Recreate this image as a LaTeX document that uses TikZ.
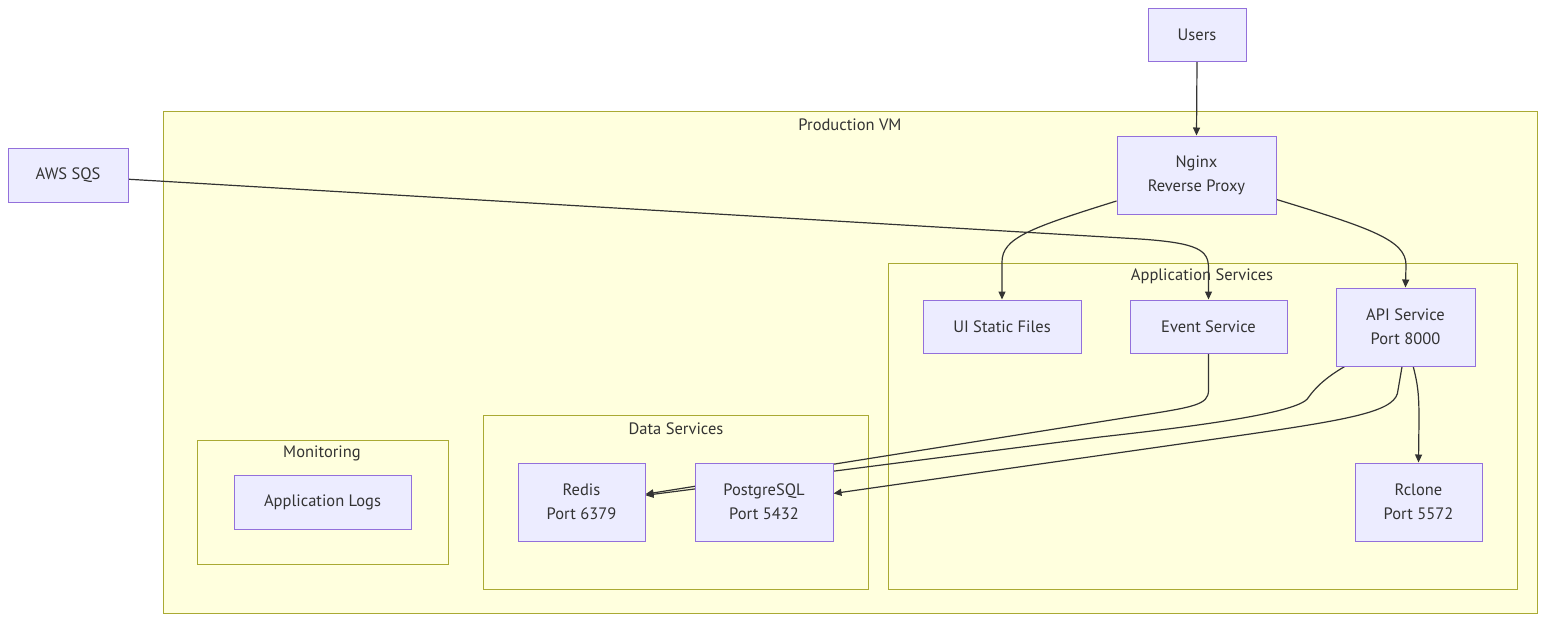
\documentclass[tikz,border=0pt]{standalone}
\usepackage{fontspec}
\setmainfont{PT Sans}
\usetikzlibrary{arrows.meta}
\definecolor{nodefill}{HTML}{ECECFF}
\definecolor{nodeline}{HTML}{9370DB}
\definecolor{clusterfill}{HTML}{FFFFDE}
\definecolor{clusterline}{HTML}{AAAA33}
\definecolor{inkgrey}{HTML}{333333}
\pgfdeclarelayer{bg}
\pgfdeclarelayer{edges}
\pgfsetlayers{bg,edges,main}
\begin{document}
\begin{tikzpicture}[x=1pt,y=-1pt,
  box/.style={draw=nodeline,fill=nodefill,line width=1pt,text=inkgrey,align=center,font=\fontsize{16.5}{24}\selectfont,inner sep=0pt},
  cluster/.style={draw=clusterline,fill=clusterfill,line width=1pt},
  clabel/.style={text=inkgrey,font=\fontsize{16.5}{24}\selectfont,inner sep=0pt},
  edge/.style={draw=inkgrey,line width=1.2pt,-{Triangle[length=8pt,width=7pt]}}]

\useasboundingbox (0,0) rectangle (1553,625) ;

\node[box,minimum width=98pt,minimum height=53pt] (users) at (1197,34.5) {Users} ;
\node[box,minimum width=120pt,minimum height=54pt] (sqs) at (68,175) {AWS SQS} ;
\node[box,minimum width=159pt,minimum height=78pt] (nginx) at (1196.5,175) {Nginx\\Reverse Proxy} ;
\node[box,minimum width=158pt,minimum height=53pt] (ui) at (1002,326.5) {UI Static Files} ;
\node[box,minimum width=157pt,minimum height=53pt] (event) at (1208.5,326.5) {Event Service} ;
\node[box,minimum width=139pt,minimum height=78pt] (api) at (1405.5,327) {API Service\\Port 8000} ;
\node[box,minimum width=127pt,minimum height=78pt] (rclone) at (1418.5,502) {Rclone\\Port 5572} ;
\node[box,minimum width=127pt,minimum height=78pt] (redis) at (581.5,502) {Redis\\Port 6379} ;
\node[box,minimum width=138pt,minimum height=78pt] (pg) at (764,502) {PostgreSQL\\Port 5432} ;
\node[box,minimum width=177pt,minimum height=54pt] (logs) at (322.5,502) {Application Logs} ;

\begin{pgfonlayer}{bg}
\draw[cluster] (163,111) rectangle (1537,613) ;
\node[clabel] (prodlabel) at (850,124.5) {Production VM} ;
\draw[cluster] (888,263) rectangle (1517,589) ;
\node[clabel] (applabel) at (1202,276.5) {Application Services} ;
\draw[cluster] (483,415) rectangle (868,589) ;
\node[clabel] (datalabel) at (676,428.5) {Data Services} ;
\draw[cluster] (197,440) rectangle (448,564) ;
\node[clabel] (monlabel) at (322,453.5) {Monitoring} ;
\end{pgfonlayer}

\begin{pgfonlayer}{edges}
\draw[edge] (users.south) -- (nginx.north) ;
\draw[edge] (nginx.198) .. controls (1030,228) and (1002,238) .. (1002,262) -- (ui.north) ;
\draw[edge] (nginx.-17) .. controls (1370,228) and (1406,240) .. (1406,265) -- (api.north) ;
\draw[edge] (sqs.-4) -- (1140,239) .. controls (1198,243) and (1208.5,250) .. (1208.5,268) -- (event.north) ;
\draw[edge] (event.south) -- (1208.5,390) .. controls (1208.5,405) and (1195,407) .. (1130,417) -- (redis.7) ;
\draw[edge] (api.213) .. controls (1325,378) and (1315,388) .. (1308,398) .. controls (1298,414) and (1180,428) .. (1100,437) -- (redis.6) ;
\draw[edge] (api.-95) -- (1398,390) .. controls (1397,410) and (1360,418) .. (1250,434) -- (pg.7) ;
\draw[edge] (api.-79) .. controls (1418,385) and (1419,395) .. (1419,420) -- (rclone.north) ;
\end{pgfonlayer}

\end{tikzpicture}
\end{document}
